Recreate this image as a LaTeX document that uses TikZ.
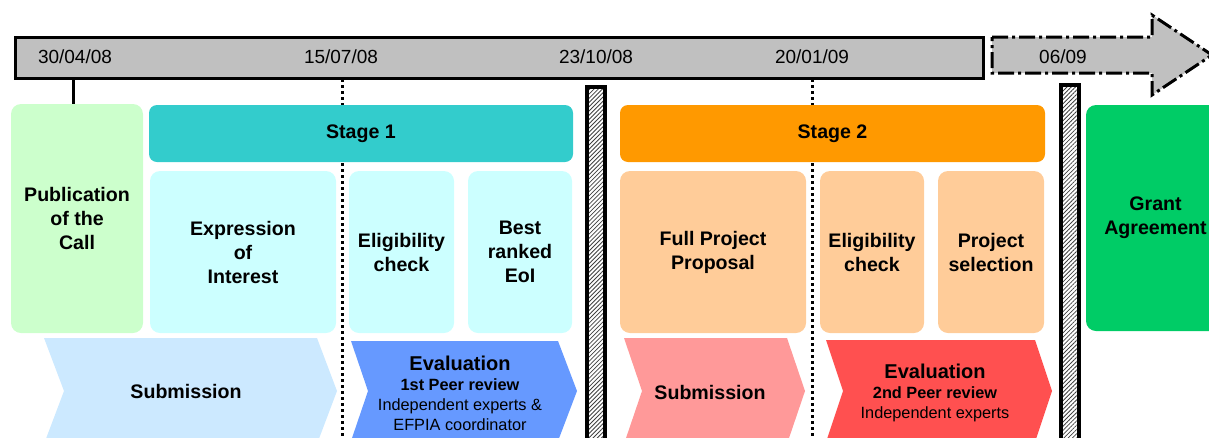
\documentclass[tikz,border=0pt]{standalone}
\usepackage{fontspec}
\setmainfont{Liberation Sans}
\usetikzlibrary{patterns.meta}

\definecolor{bargray}{HTML}{C0C0C0}
\definecolor{pubgreen}{HTML}{CCFFCC}
\definecolor{stageteal}{HTML}{33CCCC}
\definecolor{stepcyan}{HTML}{CCFFFF}
\definecolor{stageorange}{HTML}{FF9900}
\definecolor{steppeach}{HTML}{FFCC99}
\definecolor{grantgreen}{HTML}{00CC66}
\definecolor{subblue}{HTML}{CCE9FF}
\definecolor{evalblue}{HTML}{6699FF}
\definecolor{subpink}{HTML}{FF9999}
\definecolor{evalred}{HTML}{FF5050}

\begin{document}
\begin{tikzpicture}[x=1pt,y=-1pt,
  lbl/.style={font=\bfseries\fontsize{19.6}{24}\selectfont, align=center},
  datelbl/.style={font=\fontsize{19}{22}\selectfont, inner sep=0pt},
  card/.style={lbl, rounded corners=10pt, inner sep=0pt},
  stagebar/.style={lbl, rounded corners=8pt, inner sep=0pt},
  dotline/.style={line width=3pt, dash pattern=on 3pt off 3pt},
  hatchbar/.style={draw=black, line width=3.5pt, fill=white,
    pattern={Lines[angle=45,distance=3pt,line width=0.8pt]}, pattern color=black!75},
  evaltxt/.style={font=\fontsize{16.3}{20}\selectfont, align=center, inner sep=0pt}]
\useasboundingbox (0,0) rectangle (1209,437);
\clip (0,0) rectangle (1209,437);

% time line
\node[draw, line width=3pt, fill=bargray, minimum width=968pt, minimum height=41pt, inner sep=0pt] (bar) at (499,57.5) {};
\draw[line width=3pt, fill=bargray, dash pattern=on 16pt off 4pt on 3pt off 4pt]
  (992,37) -- (1152,37) -- (1152,15) -- (1212,55) -- (1152,95) -- (1152,73) -- (992,73) -- cycle;
\node[datelbl] (d1) at (75,57) {30/04/08};
\node[datelbl] (d2) at (341,57) {15/07/08};
\node[datelbl] (d3) at (596,57) {23/10/08};
\node[datelbl] (d4) at (812,57) {20/01/09};
\node[datelbl] (d5) at (1063,57) {06/09};

% milestone markers
\coordinate (m2top) at (342,79);
\coordinate (m2bot) at (342,440);
\coordinate (m4top) at (812,79);
\coordinate (m4bot) at (812,440);
\draw[dotline] (m2top) -- (m2bot);
\draw[dotline] (m4top) -- (m4bot);
\draw[hatchbar] (587,87) rectangle (605,445);
\draw[hatchbar] (1061,85) rectangle (1079,445);

% boxes
\node[card, fill=pubgreen, minimum width=132pt, minimum height=229pt] (pub) at (77,218.5) {Publication\\of the\\Call};
\node[stagebar, fill=stageteal, minimum width=424pt, minimum height=57pt] (st1) at (361,133.5) {Stage 1};
\node[card, fill=stepcyan, minimum width=186pt, minimum height=162pt] (eoi) at (243,252) {Expression\\of\\Interest};
\node[card, fill=stepcyan, minimum width=105pt, minimum height=162pt] (elig1) at (401.5,252) {Eligibility\\check};
\node[card, fill=stepcyan, minimum width=104pt, minimum height=162pt] (best) at (520,252) {Best\\ranked\\EoI};
\node[stagebar, fill=stageorange, minimum width=425pt, minimum height=57pt] (st2) at (832.5,133.5) {Stage 2};
\node[card, fill=steppeach, minimum width=186pt, minimum height=162pt] (fpp) at (713,252) {Full Project\\Proposal};
\node[card, fill=steppeach, minimum width=104pt, minimum height=162pt] (elig2) at (872,252) {Eligibility\\check};
\node[card, fill=steppeach, minimum width=106pt, minimum height=162pt] (psel) at (991,252) {Project\\selection};
\node[card, fill=grantgreen, minimum width=139pt, minimum height=226pt] (grant) at (1155.5,218) {Grant\\Agreement};

\coordinate (m1top) at (73,79);
\draw[line width=3pt] (m1top) -- (m1top |- pub.north);

% phases
\fill[subblue] (44,338) -- (317,338) -- (337,391) -- (317,444) -- (44,444) -- (64,391) -- cycle;
\fill[evalblue] (351,341) -- (558,341) -- (577,391) -- (558,441) -- (351,441) -- (368,391) -- cycle;
\fill[subpink] (624,338) -- (787,338) -- (805,391) -- (787,444) -- (624,444) -- (642,391) -- cycle;
\fill[evalred] (826,340) -- (1035,340) -- (1052,391) -- (1035,442) -- (826,442) -- (843,391) -- cycle;
\node[lbl] (sub1) at (186,391) {Submission};
\node[evaltxt] (eval1) at (460,393) {{\bfseries\fontsize{20}{22}\selectfont Evaluation}\\{\bfseries 1st Peer review}\\Independent experts \&\\EFPIA coordinator};
\node[lbl] (sub2) at (710,392) {Submission};
\node[evaltxt] (eval2) at (935,393) {{\bfseries\fontsize{20}{22}\selectfont Evaluation}\\{\bfseries 2nd Peer review}\\Independent experts};
\end{tikzpicture}
\end{document}
